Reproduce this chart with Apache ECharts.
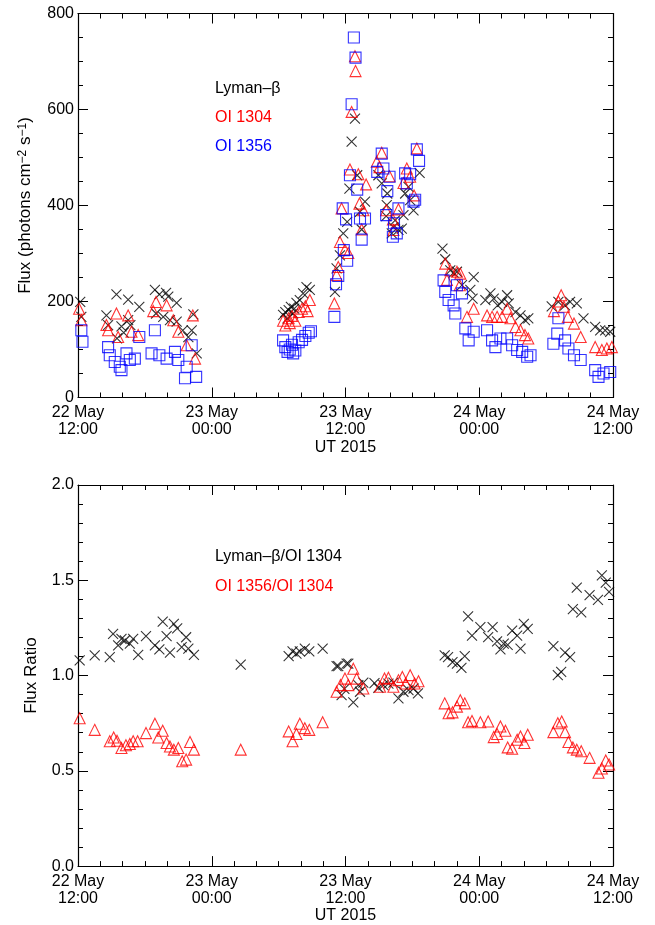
<!DOCTYPE html>
<html>
<head>
<meta charset="utf-8">
<script src="https://cdn.jsdelivr.net/npm/echarts@6/dist/echarts.min.js"></script>
<style>
html,body{margin:0;padding:0;background:#fff;}
#chart{width:655px;height:925px;}
</style>
</head>
<body>
<div id="chart"></div>
<script>
// Time in hours since 2015-05-22 12:00 UT
var xTickLabels = ['22 May\n12:00', '23 May\n00:00', '23 May\n12:00', '24 May\n00:00', '24 May\n12:00'];
var fluxTicks = [0, 200, 400, 600, 800];
var ratioTicks = ['0.0', '0.5', '1.0', '1.5', '2.0'];

// Top panel: flux (photons cm^-2 s^-1)
var lymanBeta = [
  [0.2,199],[0.3,168],[2.55,171],[2.7,151],[3.45,215],[3.5,123],[3.9,148],[4.1,135],[4.5,204],[4.5,161],[4.7,151],
  [5.5,189],[6.9,224],[7.0,175],[7.3,215],[7.65,168],[7.9,218],[8.1,210],[8.25,161],[8.85,197],[8.85,158],
  [9.4,140],[9.9,126],[10.2,140],[10.35,173],[10.65,92],
  [18.4,172],[18.6,178],[18.8,165],[18.9,182],[19.1,189],[19.3,175],[19.4,185],[19.6,197],[19.9,203],[20.2,217],[20.5,230],[20.8,224],
  [23.05,220],[23.2,269],[23.5,296],[23.8,342],[24.15,366],[24.35,435],[24.55,533],[24.85,581],[25.05,463],[25.3,387],[25.45,350],[25.75,408],
  [26.95,463],[27.25,446],[27.65,378],[27.7,401],[27.75,425],[28.15,342],[28.3,355],[28.45,369],[28.75,349],[29.05,352],[29.2,380],
  [29.35,425],[29.65,439],[29.8,411],[30.1,390],[30.65,468],
  [32.7,310],[32.95,288],[33.4,265],[33.7,260],[34.0,262],[34.45,234],[35.2,224],[35.4,206],[35.5,251],[36.55,203],[37.0,217],
  [37.3,206],[37.65,192],[38.05,199],[38.5,213],[38.65,196],[39.25,178],[39.7,171],[40.1,161],[40.4,165],
  [42.5,190],[43.1,199],[43.7,192],[44.15,199],[44.75,196],[45.35,165],[46.4,147],[46.85,140],[47.3,140],[47.75,137]
];
var oi1304 = [
  [0.1,185],[0.3,161],[2.55,151],[2.7,140],[3.45,175],[3.6,126],[4.5,171],[4.8,137],[5.4,130],[6.75,180],[7.0,199],
  [7.95,192],[8.55,161],[9.0,137],[9.75,109],[10.3,171],[10.5,81],
  [18.4,160],[18.6,150],[18.9,165],[19.0,155],[19.2,170],[19.5,160],[19.8,178],[20.1,185],[20.4,190],[20.6,180],[20.8,203],
  [23.0,196],[23.2,255],[23.35,272],[23.5,324],[23.65,394],[23.95,308],[24.25,301],[24.4,475],[24.55,595],[24.85,711],[24.9,680],
  [25.15,465],[25.25,404],[25.45,350],[25.6,390],[25.85,444],
  [26.8,491],[27.05,480],[27.25,510],[27.65,390],[27.95,461],[28.25,371],[28.3,349],[28.75,392],[29.2,447],[29.5,477],[29.8,460],
  [30.15,421],[30.4,519],
  [32.95,279],[33.1,245],[33.4,265],[34.0,262],[34.25,234],[34.3,258],[34.9,168],[35.5,185],[36.7,171],[37.15,168],[37.6,168],
  [38.05,168],[38.5,185],[38.8,165],[39.25,147],[39.7,140],[40.1,130],[40.4,123],
  [42.7,180],[43.1,200],[43.35,213],[43.6,189],[43.95,168],[44.5,154],[45.1,126],[46.4,105],[47.0,99],[47.45,102],[47.9,105]
];
var oi1356 = [
  [0.3,140],[0.4,116],[2.7,105],[2.85,88],[3.3,74],[3.75,64],[3.9,57],[4.35,92],[4.65,78],[5.1,81],[5.5,126],[6.6,92],
  [6.9,140],[7.3,88],[7.95,81],[8.7,95],[9.0,78],[9.6,40],[9.75,64],[10.2,109],[10.6,43],
  [18.4,119],[18.6,105],[18.8,95],[19.0,100],[19.2,110],[19.3,92],[19.5,98],[19.8,115],[20.1,120],[20.4,128],[20.7,135],[20.9,138],
  [23.0,168],[23.15,236],[23.35,253],[23.75,394],[23.85,307],[24.05,371],[24.15,285],[24.4,463],[24.55,611],[24.75,750],[24.9,708],
  [25.05,433],[25.3,373],[25.45,329],[25.75,373],
  [26.85,470],[27.25,508],[27.4,477],[27.65,380],[27.75,430],[27.95,460],[28.25,335],[28.35,363],[28.6,342],[28.75,394],
  [29.35,467],[29.5,446],[29.8,465],[30.1,408],[30.25,412],[30.4,517],[30.6,493],
  [32.8,244],[32.95,220],[33.25,203],[33.7,192],[33.85,175],[34.0,234],[34.45,217],[34.75,144],[35.05,119],[35.5,137],[36.7,140],
  [37.15,119],[37.45,105],[37.9,123],[38.5,123],[38.95,109],[39.4,99],[39.85,95],[40.3,85],[40.6,88],
  [42.65,112],[43.0,133],[43.1,165],[43.7,119],[44.0,102],[44.5,88],[45.1,78],[46.4,57],[46.7,43],[47.15,50],[47.75,53]
];

// Bottom panel: flux ratios
var ratioLyman = [
  [0.15,1.08],[1.5,1.106],[2.85,1.097],[3.15,1.219],[3.6,1.158],[3.9,1.193],[4.2,1.184],[4.65,1.167],[4.95,1.193],[5.4,1.109],
  [6.1,1.207],[6.9,1.158],[7.3,1.137],[7.6,1.283],[7.95,1.207],[8.25,1.12],[8.6,1.271],[8.9,1.248],[9.3,1.149],[9.7,1.201],
  [9.9,1.141],[10.4,1.109],[14.6,1.057],[18.9,1.102],[19.25,1.127],[19.6,1.115],[19.9,1.127],[20.35,1.141],[20.75,1.127],
  [21.95,1.141],[23.2,1.049],[23.35,1.05],[23.65,0.897],[23.9,0.93],[24.1,1.063],[24.25,1.063],[24.7,0.859],[25.15,0.95],
  [25.3,0.915],[25.6,0.963],[26.6,0.96],[26.95,0.936],[27.4,0.95],[27.85,0.958],[28.3,0.963],[28.75,0.88],[29.2,0.915],
  [29.65,0.924],[30.1,0.932],[30.5,0.906],[32.9,1.106],[33.2,1.097],[33.6,1.071],[34.0,1.063],[34.4,1.04],[34.7,1.102],
  [35.0,1.311],[35.35,1.21],[36.1,1.254],[36.8,1.202],[37.2,1.254],[37.6,1.179],[37.9,1.137],[38.2,1.167],[38.55,1.161],
  [38.95,1.236],[39.4,1.21],[39.7,1.141],[40.0,1.271],[40.35,1.245],[42.65,1.155],[43.05,1.002],[43.35,1.019],[43.7,1.12],
  [44.15,1.097],[44.4,1.349],[44.75,1.462],[45.15,1.332],[45.9,1.422],[46.65,1.397],[47.0,1.526],[47.35,1.488],[47.65,1.439]
];
var ratioOI = [
  [0.15,0.776],[1.5,0.715],[2.85,0.655],[3.2,0.675],[3.5,0.658],[3.9,0.62],[4.3,0.634],[4.65,0.641],[4.95,0.655],[5.35,0.655],
  [6.1,0.698],[6.9,0.747],[7.2,0.675],[7.6,0.71],[7.95,0.646],[8.25,0.628],[8.6,0.611],[9.0,0.62],[9.35,0.55],[9.7,0.559],
  [10.05,0.651],[10.4,0.611],[14.6,0.611],[18.9,0.707],[19.25,0.655],[19.6,0.693],[19.9,0.747],[20.35,0.724],[20.75,0.715],
  [21.95,0.755],[23.2,0.915],[23.55,0.95],[23.95,0.984],[24.25,0.95],[24.7,1.036],[25.0,0.984],[25.6,0.932],[27.1,0.941],
  [27.5,0.984],[27.85,0.988],[28.3,0.941],[28.75,0.976],[29.1,0.993],[29.4,0.958],[29.8,1.002],[30.2,0.958],[30.55,0.97],
  [32.9,0.854],[33.25,0.802],[33.6,0.807],[34.0,0.837],[34.3,0.871],[34.7,0.854],[35.0,0.755],[35.35,0.762],[36.1,0.755],
  [36.8,0.759],[37.3,0.677],[37.6,0.693],[37.9,0.733],[38.35,0.71],[38.55,0.623],[38.95,0.616],[39.4,0.663],[39.7,0.68],
  [40.05,0.646],[40.35,0.689],[42.65,0.703],[43.05,0.75],[43.4,0.759],[43.7,0.703],[44.0,0.651],[44.4,0.623],[44.75,0.611],
  [45.15,0.603],[45.9,0.568],[46.7,0.49],[47.0,0.512],[47.35,0.554],[47.65,0.533]
];

var FONT = "'Liberation Sans', Arial, Helvetica, sans-serif";
var CROSS = 'path://M0,0L10,10M10,0L0,10';
var chart = echarts.init(document.getElementById('chart'), null, {renderer: 'canvas'});

function axisCommon(gridIndex, max, interval, minorSplit) {
  return {
    type: 'value', gridIndex: gridIndex, min: 0, max: max, interval: interval,
    axisLine: {show: true, onZero: false, lineStyle: {color: '#000', width: 1.2}},
    axisTick: {show: true, inside: true, length: 10, lineStyle: {color: '#000', width: 1}},
    minorTick: {show: true, splitNumber: minorSplit, length: 5, lineStyle: {color: '#000', width: 1}},
    splitLine: {show: false}, minorSplitLine: {show: false}
  };
}

function xAxisPair(gridIndex) {
  var bottom = echarts.util.merge({
    position: 'bottom',
    name: 'UT 2015', nameLocation: 'middle', nameGap: 41,
    nameTextStyle: {fontFamily: FONT, fontSize: 16, color: '#000'},
    axisLabel: {show: true, margin: 7, fontFamily: FONT, fontSize: 16, color: '#000', lineHeight: 17,
      formatter: function (v) { return xTickLabels[Math.round(v / 12)]; }}
  }, axisCommon(gridIndex, 48, 12, 6), true);
  var top = echarts.util.merge({position: 'top', axisLabel: {show: false}},
    axisCommon(gridIndex, 48, 12, 6), true);
  return [bottom, top];
}

function yAxisPair(gridIndex, max, interval, minorSplit, name, nameGap, labels) {
  var left = echarts.util.merge({
    position: 'left',
    name: name, nameLocation: 'middle', nameGap: nameGap, nameRotate: 90,
    nameTextStyle: {fontFamily: FONT, fontSize: 17, color: '#000',
      rich: {
        a: {fontFamily: FONT, fontSize: 17, color: '#000'},
        s: {fontFamily: FONT, fontSize: 12, color: '#000', verticalAlign: 'top', lineHeight: 12}
      }},
    axisLabel: {show: true, margin: 4, fontFamily: FONT, fontSize: 16, color: '#000',
      formatter: function (v) { return labels[Math.round(v / interval)]; }}
  }, axisCommon(gridIndex, max, interval, minorSplit), true);
  var right = echarts.util.merge({position: 'right', axisLabel: {show: false}},
    axisCommon(gridIndex, max, interval, minorSplit), true);
  return [left, right];
}

var xa0 = xAxisPair(0), xa1 = xAxisPair(1);
var ya0 = yAxisPair(0, 800, 200, 4, '{a|Flux (photons cm}{s|\u22122}{a| s}{s|\u22121}{a|)}', 44, fluxTicks);
var ya1 = yAxisPair(1, 2, 0.5, 5, 'Flux Ratio', 38, ratioTicks);

function scatter(name, data, xi, yi, symbol, size, color) {
  return {
    name: name, type: 'scatter', data: data,
    xAxisIndex: xi, yAxisIndex: yi,
    symbol: symbol, symbolSize: size,
    itemStyle: {color: 'rgba(0,0,0,0)', borderColor: color, borderWidth: 1.1},
    emphasis: {disabled: true},
    silent: true
  };
}

var option = {
  animation: false,
  backgroundColor: '#fff',
  textStyle: {fontFamily: FONT},
  grid: [
    {left: 78, right: 42, top: 13.5, height: 384, containLabel: false},
    {left: 78, right: 42, top: 485, height: 384, containLabel: false}
  ],
  xAxis: [xa0[0], xa0[1], xa1[0], xa1[1]],
  yAxis: [ya0[0], ya0[1], ya1[0], ya1[1]],
  legend: [
    {
      orient: 'vertical', left: 195, top: 76, itemGap: 13, itemWidth: 10, itemHeight: 14,
      icon: 'none', selectedMode: false,
      textStyle: {fontFamily: FONT, fontSize: 16},
      data: [
        {name: 'Lyman\u2013\u03b2', textStyle: {color: '#000'}},
        {name: 'OI 1304', textStyle: {color: '#ff0000'}},
        {name: 'OI 1356', textStyle: {color: '#0000ff'}}
      ]
    },
    {
      orient: 'vertical', left: 195, top: 544, itemGap: 14, itemWidth: 10, itemHeight: 14,
      icon: 'none', selectedMode: false,
      textStyle: {fontFamily: FONT, fontSize: 16},
      data: [
        {name: 'Lyman\u2013\u03b2/OI 1304', textStyle: {color: '#000'}},
        {name: 'OI 1356/OI 1304', textStyle: {color: '#ff0000'}}
      ]
    }
  ],
  series: [
    scatter('Lyman\u2013\u03b2', lymanBeta, 0, 0, CROSS, 10, '#000'),
    scatter('OI 1304', oi1304, 0, 0, 'triangle', 11, '#ff0000'),
    scatter('OI 1356', oi1356, 0, 0, 'rect', 11, '#0000ff'),
    scatter('Lyman\u2013\u03b2/OI 1304', ratioLyman, 2, 2, CROSS, 10, '#000'),
    scatter('OI 1356/OI 1304', ratioOI, 2, 2, 'triangle', 11, '#ff0000')
  ]
};
chart.setOption(option);
</script>
</body>
</html>
